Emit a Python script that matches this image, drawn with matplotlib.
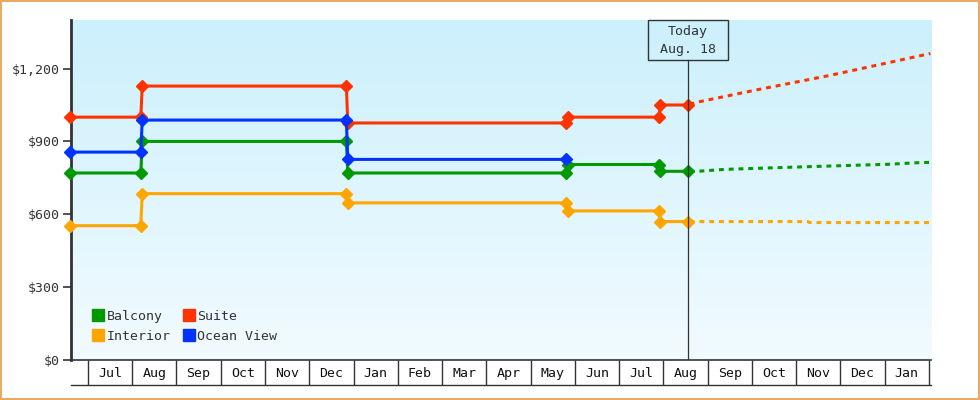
import calendar
import numpy as np
import matplotlib.pyplot as plt
from matplotlib.patches import Rectangle
from matplotlib.transforms import blended_transform_factory

plt.rcParams['font.family'] = ['DejaVu Sans Mono']

# month axis: month 0 = Jul of first year
START_YEAR, START_MONTH = 2011, 7
month_labels = ['Jul', 'Aug', 'Sep', 'Oct', 'Nov', 'Dec', 'Jan', 'Feb', 'Mar', 'Apr',
                'May', 'Jun', 'Jul', 'Aug', 'Sep', 'Oct', 'Nov', 'Dec', 'Jan']

def mpos(d):
    # 'YYYY-MM-DD' -> fractional month index, every month the same width
    y, m, day = [int(v) for v in d.split('-')]
    n = (y - START_YEAR) * 12 + (m - START_MONTH)
    return n + (day - 1) / calendar.monthrange(y, m)[1]

# price history (step changes)
balcony_dates = ['2011-06-19', '2011-08-07', '2011-08-08', '2011-12-27', '2011-12-28',
                 '2012-05-26', '2012-05-27', '2012-07-29', '2012-07-30', '2012-08-18']
balcony_vals = [770, 770, 900, 900, 770, 770, 805, 805, 777, 777]

suite_dates = ['2011-06-19', '2011-08-07', '2011-08-08', '2011-12-27', '2011-12-28',
               '2012-05-26', '2012-05-27', '2012-07-29', '2012-07-30', '2012-08-18']
suite_vals = [1000, 1000, 1128, 1128, 976, 976, 1000, 1000, 1050, 1050]

ocean_dates = ['2011-06-19', '2011-08-07', '2011-08-08', '2011-12-27', '2011-12-28',
               '2012-05-26']
ocean_vals = [856, 856, 988, 988, 826, 826]

interior_dates = ['2011-06-19', '2011-08-07', '2011-08-08', '2011-12-27', '2011-12-28',
                  '2012-05-26', '2012-05-27', '2012-07-29', '2012-07-30', '2012-08-18']
interior_vals = [553, 553, 685, 685, 647, 647, 614, 614, 570, 570]

# forecasts after today
suite_fc_dates = ['2012-08-18', '2012-08-25', '2012-10-05', '2012-11-24', '2013-02-02']
suite_fc_vals = [1050, 1062, 1113, 1172, 1262]
balcony_fc_dates = ['2012-08-18', '2012-08-25', '2012-09-13', '2012-11-09', '2013-01-04',
                    '2013-01-23', '2013-02-02']
balcony_fc_vals = [777, 777, 785, 796, 806, 812, 814]
interior_fc_dates = ['2012-08-18', '2012-11-09', '2012-11-10', '2013-02-02']
interior_fc_vals = [570, 570, 566, 566]

today = '2012-08-18'
today_text = ['Today', 'Aug. 18']

colors = {'Balcony': '#009900', 'Suite': '#ff3300', 'Interior': '#ffa500',
          'Ocean View': '#0033ff'}
txt = '#333333'

fig = plt.figure(figsize=(9.8, 4), dpi=100)
fig.patches.append(Rectangle((0.001, 0.003), 0.998, 0.994, transform=fig.transFigure,
                             fill=False, ec='#e8aa66', lw=1.5))
ax = fig.add_axes([71 / 980, 40 / 400, 860 / 980, 340 / 400])

# gradient background
grad = np.linspace(0, 1, 256).reshape(-1, 1)
top = np.array([204, 240, 252]) / 255
bot = np.array([242, 251, 255]) / 255
img = top + (bot - top) * grad[:, :, None]
ax.imshow(img, extent=[0, 1, 0, 1], transform=ax.transAxes, aspect='auto', zorder=0)

def series(dates, vals, name, label=True):
    ax.plot([mpos(d) for d in dates], vals, color=colors[name], lw=2.2, marker='D',
            ms=5.8, zorder=3, clip_on=False, label=name if label else None)

def forecast(dates, vals, name):
    ax.plot([mpos(d) for d in dates], vals, color=colors[name], lw=2.2,
            linestyle=(2.5, (1.6, 1.6)), zorder=3)

series(balcony_dates, balcony_vals, 'Balcony')
series(interior_dates, interior_vals, 'Interior')
series(suite_dates, suite_vals, 'Suite')
series(ocean_dates, ocean_vals, 'Ocean View')
forecast(suite_fc_dates, suite_fc_vals, 'Suite')
forecast(balcony_fc_dates, balcony_fc_vals, 'Balcony')
forecast(interior_fc_dates, interior_fc_vals, 'Interior')

ax.set_xlim(-0.384, 19.05)
ax.set_ylim(0, 1400)

# today marker
tx = mpos(today)
box_h = 40 / 340
box_w = 80 / 44.26
bt = blended_transform_factory(ax.transData, ax.transAxes)
ax.plot([tx, tx], [0, 1 - box_h], color=txt, lw=0.9, transform=bt, zorder=4)
ax.add_patch(Rectangle((tx - box_w / 2, 1 - box_h), box_w, box_h, transform=bt,
                       fc='none', ec=txt, lw=1.0, zorder=5, clip_on=False))
ax.text(tx, 1 - 12 / 340, today_text[0], transform=bt, ha='center', va='center',
        fontsize=9.5, color=txt, zorder=6)
ax.text(tx, 1 - 30 / 340, today_text[1], transform=bt, ha='center', va='center',
        fontsize=9.5, color=txt, zorder=6)

# y axis
yt = [0, 300, 600, 900, 1200]
ax.set_yticks(yt)
ax.set_yticklabels(['${:,}'.format(v) for v in yt])
ax.tick_params(axis='y', length=6, width=1.2, color=txt, labelcolor=txt, labelsize=9.5, pad=2)

# x axis: boxes between month boundaries, labels centered
ax.set_xticks(np.arange(0, len(month_labels) + 1))
ax.set_xticklabels([])
ax.set_xticks(np.arange(len(month_labels)) + 0.5, minor=True)
ax.set_xticklabels(month_labels, minor=True)
ax.tick_params(axis='x', which='major', length=18, width=1.0, color=txt, direction='out')
ax.tick_params(axis='x', which='minor', length=0, pad=5, labelsize=9.5, labelcolor='#111111')
ax.plot([0, 1], [-25 / 340, -25 / 340], transform=ax.transAxes, color=txt, lw=1.0,
        clip_on=False)

for s in ['top', 'right']:
    ax.spines[s].set_visible(False)
ax.spines['left'].set_color(txt)
ax.spines['left'].set_linewidth(2)
ax.spines['bottom'].set_color(txt)
ax.spines['bottom'].set_linewidth(1.2)

leg = ax.legend(ncol=2, loc='lower left', bbox_to_anchor=(0.012, 0.015), frameon=False,
                handlelength=0.8, handleheight=0.8, handletextpad=0.2, columnspacing=1.0,
                labelspacing=0.55, fontsize=9.5)
for h, name in zip(leg.legend_handles, ['Balcony', 'Interior', 'Suite', 'Ocean View']):
    h.set_marker('s')
    h.set_markersize(8)
    h.set_linestyle('none')
for t in leg.get_texts():
    t.set_color(txt)

fig.savefig('out.png', dpi=100)
